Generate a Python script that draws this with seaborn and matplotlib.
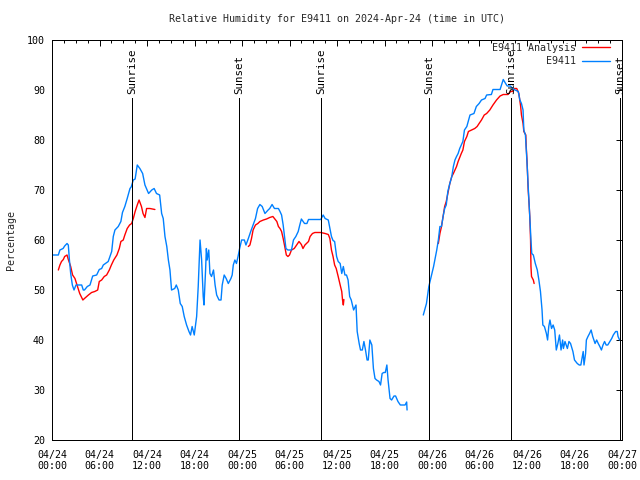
import numpy as np
import pandas as pd
import matplotlib
matplotlib.use("Agg")
import matplotlib.pyplot as plt
import seaborn as sns
from matplotlib.ticker import MultipleLocator
from matplotlib.lines import Line2D

# ---------------- data (hours since 2024-04-24 00:00 UTC, relative humidity %) ----------------
obs1_hours = [0.0, 0.8, 1.0, 1.4, 1.6, 1.9, 2.06, 2.2, 2.36, 2.57, 2.78, 3.03, 3.75, 3.95, 4.1, 4.46, 4.8,
              5.14, 5.64, 5.97, 6.27, 6.48, 7.1, 7.54, 7.74, 7.95, 8.37, 8.7, 8.9, 9.2, 9.5, 9.85, 10.0,
              10.27, 10.5, 10.77, 11.1, 11.45, 11.74, 12.2, 12.6, 12.9, 13.2, 13.6, 13.85, 14.05, 14.27,
              14.5, 14.7, 14.9, 15.1, 15.5, 15.7, 15.95, 16.2, 16.45, 16.7, 17.0, 17.3, 17.5, 17.7, 17.97,
              18.27, 18.47, 18.7, 18.9, 19.1, 19.2, 19.4, 19.5, 19.6, 19.8, 19.95, 20.15, 20.4, 20.6, 20.8,
              21.1, 21.35, 21.5, 21.75, 22.0, 22.27, 22.6, 22.76, 22.9, 23.1, 23.3, 23.5, 23.7, 23.95, 24.3,
              24.5, 24.8, 25.1, 25.4, 25.7, 25.97, 26.26, 26.55, 26.9, 27.3, 27.5, 27.8, 28.1, 28.6, 28.8,
              29.0, 29.2, 29.4, 29.55, 29.8, 30.25, 30.5, 30.8, 31.1, 31.3, 31.5, 31.9, 32.2, 32.4, 33.95,
              34.25, 34.5, 34.9, 35.1, 35.3, 35.5, 35.7, 35.95, 36.15, 36.4, 36.6, 36.8, 37.0, 37.2, 37.4,
              37.6, 37.8, 38.1, 38.4, 38.55, 38.8, 38.97, 39.2, 39.4, 39.6, 39.8, 39.95, 40.15, 40.4, 40.6,
              40.8, 41.0, 41.3, 41.5, 41.7, 41.9, 42.1, 42.3, 42.45, 42.7, 42.9, 43.2, 43.4, 43.7, 44.0,
              44.6, 44.8, 44.85]
obs1_rh = [57.0, 57.0, 58.0, 58.3, 58.8, 59.3, 59.0, 56.0, 53.3, 51.0, 50.0, 51.0, 51.0, 50.0, 50.0, 50.7, 51.0,
           52.8, 53.0, 54.1, 54.3, 55.0, 55.7, 57.7, 60.7, 62.0, 62.7, 63.7, 65.5, 66.7, 68.3, 70.3, 70.6,
           72.0, 72.2, 75.0, 74.3, 73.3, 71.0, 69.3, 70.0, 70.3, 69.3, 69.0, 65.3, 64.3, 60.7,
           58.7, 56.0, 54.0, 50.0, 50.3, 51.0, 50.0, 47.3, 46.7, 44.7, 43.0, 41.7, 41.0, 42.7, 41.0,
           44.7, 50.7, 60.0, 56.0, 48.7, 47.0, 54.0, 58.3, 56.0, 58.0, 53.3, 52.7, 54.0, 51.0, 49.0,
           48.0, 48.0, 51.0, 53.0, 52.3, 51.3, 52.3, 53.0, 55.0, 56.0, 55.3, 56.7, 58.3, 60.0, 60.0,
           59.0, 60.3, 61.7, 63.0, 64.3, 66.3, 67.1, 66.7, 65.3, 66.0, 66.3, 67.1, 66.3, 66.3, 65.7,
           65.0, 63.0, 60.3, 58.3, 58.0, 58.0, 60.0, 60.7, 61.7, 63.0, 64.2, 63.3, 63.3, 64.1, 64.1,
           65.0, 64.3, 64.0, 62.3, 60.7, 59.9, 59.7, 56.7, 55.7, 55.3, 53.3, 54.7, 53.0, 53.0, 52.0,
           48.7, 48.0, 46.0, 47.0, 41.7, 39.3, 38.0, 38.0, 39.7, 38.0, 36.0, 36.0, 40.0, 39.0, 34.3,
           32.3, 32.0, 31.7, 31.0, 33.3, 33.5, 33.5, 35.0, 32.0, 28.3, 28.0, 28.8, 28.8, 27.7, 27.0,
           27.0, 27.6, 26.0]

obs2_hours = [46.9, 47.3, 47.6, 47.9, 48.2, 48.6, 48.8, 49.0, 49.2, 49.4, 49.6, 49.8, 50.0, 50.25, 50.5, 50.7,
              50.9, 51.1, 51.3, 51.5, 51.9, 52.1, 52.4, 52.8, 53.3, 53.6, 53.95, 54.25, 54.7, 54.9, 55.5,
              55.7, 56.6, 57.0, 57.3, 57.5, 57.9, 58.2, 58.5, 58.9, 59.1, 59.3, 59.5, 59.6, 59.8, 59.9,
              60.05, 60.15, 60.35, 60.5, 60.6, 60.8, 61.05, 61.3, 61.5, 61.7, 61.9, 62.0, 62.2, 62.45,
              62.6, 62.75, 62.9, 63.1, 63.3, 63.5, 63.7, 63.9, 64.1, 64.3, 64.5, 64.6, 64.8, 65.1, 65.3,
              65.5, 65.8, 66.0, 66.35, 66.6, 66.8, 67.1, 67.2, 67.4, 67.5, 67.7, 67.9, 68.1, 68.3, 68.6,
              68.8, 69.0, 69.2, 69.4, 69.6, 69.8, 70.0, 70.2, 70.7, 70.9, 71.2, 71.4, 71.5, 71.7]
obs2_rh = [45.0, 47.3, 50.7, 52.7, 54.7, 58.0, 60.0, 62.7, 62.7, 64.7, 66.3, 67.0, 69.7, 71.3, 72.7, 74.7,
           76.0, 76.7, 77.3, 78.3, 79.7, 82.0, 82.7, 85.0, 85.3, 86.7, 87.3, 88.0, 88.3, 89.0, 89.1,
           90.1, 90.1, 92.1, 91.3, 90.8, 90.8, 90.3, 90.0, 89.7, 88.0, 87.3, 86.0, 82.0, 81.0, 78.3,
           74.0, 70.7, 64.7, 60.0, 57.3, 57.0, 55.3, 54.0, 52.0, 49.7, 46.0, 43.0, 42.7, 41.3,
           40.0, 42.7, 44.0, 42.3, 43.0, 42.0, 38.0, 39.3, 41.0, 38.0, 40.0, 38.3, 39.7, 38.3, 39.7,
           39.3, 37.7, 36.0, 35.3, 35.0, 35.0, 37.7, 35.0, 37.3, 40.0, 40.7, 41.3, 42.0, 40.7, 39.3,
           40.0, 39.3, 38.7, 38.0, 39.0, 39.7, 39.0, 39.0, 40.3, 41.0, 41.7, 41.7, 40.7, 40.0]

ana1_hours = [0.8, 1.0, 1.2, 1.43, 1.6, 1.9, 2.06, 2.36, 2.6, 2.9, 3.1, 3.3, 3.5, 3.9, 4.1, 4.6, 5.0, 5.4,
              5.77, 5.97, 6.27, 6.6, 6.9, 7.24, 7.5, 7.8, 8.2, 8.5, 8.7, 9.0, 9.2, 9.5, 9.8, 10.06, 10.27,
              10.5, 10.77, 11.0, 11.3, 11.5, 11.74, 11.95, 12.37, 13.0]
ana1_rh = [54.0, 55.0, 55.7, 56.1, 56.7, 57.0, 56.1, 54.7, 53.0, 52.3, 51.3, 50.3, 49.3, 48.0, 48.3, 49.0, 49.5, 49.7,
           50.0, 51.7, 52.0, 52.7, 53.0, 54.0, 55.0, 56.0, 57.0, 58.3, 59.7, 60.0, 61.0, 62.3, 63.0, 63.3, 64.3,
           65.7, 67.0, 68.0, 66.7, 65.3, 64.5, 66.3, 66.3, 66.1]

ana2_hours = [24.8, 25.0, 25.2, 25.4, 25.7, 26.0, 26.26, 26.7, 27.1, 27.5, 27.9, 28.1, 28.4, 28.6, 28.8, 29.0,
              29.2, 29.4, 29.6, 29.8, 30.0, 30.25, 30.6, 30.9, 31.2, 31.5, 31.7, 31.95, 32.4, 32.6, 32.9,
              33.2, 33.95, 34.5, 34.9, 35.1, 35.3, 35.5, 35.7, 35.9, 36.15, 36.4, 36.6, 36.7, 36.8, 36.87]
ana2_rh = [58.7, 59.0, 60.3, 62.0, 63.0, 63.3, 63.7, 64.0, 64.2, 64.5, 64.7, 64.3, 63.7, 62.7, 62.3, 61.7,
           60.3, 58.7, 57.0, 56.7, 57.0, 58.0, 58.3, 59.0, 59.7, 59.1, 58.3, 59.0, 59.7, 60.7, 61.3,
           61.5, 61.5, 61.3, 61.1, 60.3, 58.0, 56.7, 55.0, 54.3, 52.7, 51.0, 49.7, 48.0, 47.0, 48.1]

ana3_hours = [48.8, 49.0, 49.2, 49.4, 49.6, 49.8, 50.0, 50.25, 50.5, 50.7, 50.9, 51.1, 51.3, 51.5, 51.7, 51.9,
              52.1, 52.4, 52.6, 53.0, 53.4, 53.7, 53.95, 54.25, 54.6, 54.9, 55.3, 55.7, 56.15, 56.6, 57.0,
              57.6, 57.9, 58.2, 58.4, 58.7, 58.97, 59.2, 59.3, 59.5, 59.6, 59.85, 59.9, 60.0, 60.15, 60.26,
              60.35, 60.45, 60.5, 60.57, 60.8, 60.9]
ana3_rh = [59.3, 61.3, 62.7, 64.7, 66.7, 67.7, 69.3, 71.3, 72.7, 73.3, 74.0, 74.7, 75.7, 76.5, 77.3, 78.0,
           79.7, 80.7, 81.7, 82.0, 82.3, 82.7, 83.3, 84.0, 85.0, 85.3, 86.0, 87.0, 88.0, 88.8, 89.1,
           89.1, 89.7, 89.7, 90.3, 90.3, 89.3, 86.7, 85.0, 83.3, 81.7, 81.0, 78.7, 76.0, 70.0, 67.3,
           64.7, 60.0, 54.7, 52.7, 52.0, 51.3]

sun_hours = [10.1, 23.6, 34.0, 47.6, 58.0, 71.75]
sun_labels = ["Sunrise", "Sunset", "Sunrise", "Sunset", "Sunrise", "Sunset"]

xtick_hours = [0, 6, 12, 18, 24, 30, 36, 42, 48, 54, 60, 66, 72]
xtick_labels = ["04/24\n00:00", "04/24\n06:00", "04/24\n12:00", "04/24\n18:00",
                "04/25\n00:00", "04/25\n06:00", "04/25\n12:00", "04/25\n18:00",
                "04/26\n00:00", "04/26\n06:00", "04/26\n12:00", "04/26\n18:00",
                "04/27\n00:00"]
ytick_values = [20, 30, 40, 50, 60, 70, 80, 90, 100]

series_names = ["E9411 Analysis", "E9411"]
series_colors = {"E9411 Analysis": "#ff0000", "E9411": "#0080ff"}

title = "Relative Humidity for E9411 on 2024-Apr-24 (time in UTC)"
ylabel = "Percentage"

# ---------------- build table ----------------
segments = [
    ("E9411 Analysis", "a1", ana1_hours, ana1_rh),
    ("E9411 Analysis", "a2", ana2_hours, ana2_rh),
    ("E9411 Analysis", "a3", ana3_hours, ana3_rh),
    ("E9411", "o1", obs1_hours, obs1_rh),
    ("E9411", "o2", obs2_hours, obs2_rh),
]
frames = []
for name, seg, h, v in segments:
    frames.append(pd.DataFrame({"hour": h, "rh": v, "series": name, "seg": seg}))
df = pd.concat(frames, ignore_index=True)

# ---------------- plot ----------------
sns.set_style("white")
plt.rcParams["font.family"] = ["DejaVu Sans Mono"]
FS = 7.2
LW = 1.0      # data lines
FLW = 0.7     # frame / marker lines (1 px, crisp)

fig = plt.figure(figsize=(6.4, 4.8), dpi=100)
ax = fig.add_axes([52 / 640, 40 / 480, 570 / 640, 400 / 480])

sns.lineplot(data=df, x="hour", y="rh", hue="series", units="seg", estimator=None, sort=False,
             hue_order=series_names, palette=series_colors, linewidth=LW, ax=ax, legend=False)

ax.set_xlim(0, 72)
ax.set_ylim(20, 100)

# sunrise / sunset markers
ax.vlines(sun_hours, 20, 88.4, colors="black", linewidth=FLW, antialiased=False)
for h, lab in zip(sun_hours, sun_labels):
    ax.text(h, 89.2, lab, rotation=90, ha="center", va="bottom", fontsize=7.8, color="black")

ax.set_xticks(xtick_hours)
ax.set_xticklabels(xtick_labels)
ax.set_yticks(ytick_values)
ax.set_yticklabels([str(v) for v in ytick_values])
ax.xaxis.set_minor_locator(MultipleLocator(1.5))
ax.tick_params(which="both", direction="in", top=True, right=True, colors="black",
               labelsize=FS, width=FLW)
ax.tick_params(which="major", length=4)
ax.tick_params(which="minor", length=2)
ax.tick_params(axis="x", pad=7)
ax.tick_params(axis="y", pad=5)
ax.set_xlabel("")
ax.set_ylabel("")
for sp in ax.spines.values():
    sp.set_color("black")
    sp.set_linewidth(FLW)
    sp.set_antialiased(False)

fig.text(337 / 640, 1 - 19 / 480, title, ha="center", va="center", fontsize=FS)
fig.text(11 / 640, 0.5, ylabel, rotation=90, ha="center", va="center", fontsize=FS)

handles = [Line2D([], [], color=series_colors[n], linewidth=LW) for n in series_names]
ax.legend(handles, series_names, loc="upper right", bbox_to_anchor=((610 - 52) / 570, (440 - 43) / 400),
          frameon=False, markerfirst=False, fontsize=FS, handlelength=2.8, handletextpad=0.6,
          borderaxespad=0, borderpad=0, labelspacing=0.35)

fig.savefig("out.png", dpi=100)
